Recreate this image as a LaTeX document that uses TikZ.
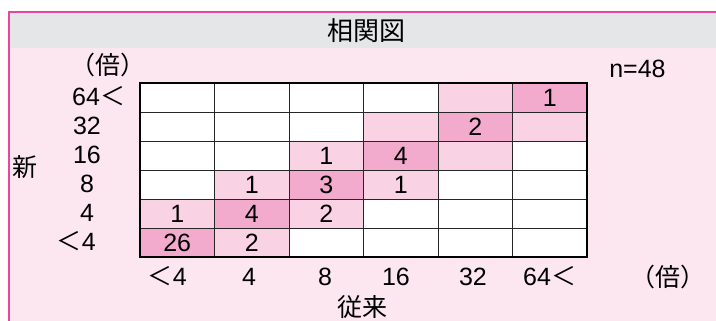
\documentclass[tikz,border=0pt]{standalone}
\usepackage{fontspec}
\setmainfont{Liberation Sans}
\newfontfamily\jp{Noto Sans CJK JP}
\usepackage{tikz}
\definecolor{frame_pink}{RGB}{230,72,158}
\definecolor{band_gray}{RGB}{229,230,232}
\definecolor{bg_pink}{RGB}{252,230,240}
\definecolor{cell_light}{RGB}{249,211,228}
\definecolor{cell_dark}{RGB}{242,171,205}
\newcommand\lt{{\jp ＜}}

\begin{document}
\begin{tikzpicture}[x=1pt,y=-1pt,font=\fontsize{25}{30}\selectfont]
    \tikzstyle{cell}=[minimum width=74.5pt, minimum height=29pt, inner sep=0pt, text=black]
    \tikzstyle{lc}=[style=cell, fill=cell_light]
    \tikzstyle{dc}=[style=cell, fill=cell_dark]
    \tikzstyle{lab}=[inner sep=0pt, text=black, anchor=base]
    \tikzstyle{jlab}=[inner sep=0pt, text=black, font=\fontsize{25}{30}\selectfont\jp]
    \tikzstyle{gridline}=[draw=black!85, line width=0.8pt]
    \tikzstyle{border}=[draw=black, line width=2pt]

    \useasboundingbox (0,0) rectangle (716,321);
    \begin{scope}
      \clip (0,0) rectangle (716,321);
      \fill[bg_pink] (9,12) rectangle (740,340);
      \fill[band_gray] (9,12) rectangle (740,48);
      \draw[frame_pink, line width=2pt] (9,12) rectangle (740,340);
    \end{scope}

    \node[jlab, font=\fontsize{26}{30}\selectfont\jp] (title) at (366,30.5) {相関図};

    \node[cell, fill=white, minimum width=447pt, minimum height=174pt] (grid) at (363.5,170) {};

    \node[lc] (c15) at (475.25,97.5)  {};
    \node[dc] (c16) at (549.75,97.5)  {1};
    \node[lc] (c24) at (400.75,126.5) {};
    \node[dc] (c25) at (475.25,126.5) {2};
    \node[lc] (c26) at (549.75,126.5) {};
    \node[lc] (c33) at (326.25,155.5) {1};
    \node[dc] (c34) at (400.75,155.5) {4};
    \node[lc] (c35) at (475.25,155.5) {};
    \node[lc] (c42) at (251.75,184.5) {1};
    \node[dc] (c43) at (326.25,184.5) {3};
    \node[lc] (c44) at (400.75,184.5) {1};
    \node[lc] (c51) at (177.25,213.5) {1};
    \node[dc] (c52) at (251.75,213.5) {4};
    \node[lc] (c53) at (326.25,213.5) {2};
    \node[dc] (c61) at (177.25,242.5) {26};
    \node[lc] (c62) at (251.75,242.5) {2};

    \foreach \x in {214.5,289,363.5,438,512.5}
      \draw[gridline] (\x,83) -- (\x,257);
    \foreach \y in {112,141,170,199,228}
      \draw[gridline] (140,\y) -- (587,\y);
    \draw[border] (grid.north west) rectangle (grid.south east);

    \node[jlab] (unity) at (108,65) {（倍）};
    \node[lab, anchor=base west] (y6) at (72,106) {64\lt};
    \node[lab] (y5) at (87,135) {32};
    \node[lab] (y4) at (87,164) {16};
    \node[lab] (y3) at (87,193) {8};
    \node[lab] (y2) at (87,222) {4};
    \node[lab, anchor=base east] (y1) at (96,251) {\lt4};
    \node[jlab] (ytitle) at (25,167) {新};

    \node[lab] (n) at (637.5,78) {n=48};

    \node[lab, anchor=base east] (x1) at (187,285) {\lt4};
    \node[lab] (x2) at (249,285) {4};
    \node[lab] (x3) at (325,285) {8};
    \node[lab] (x4) at (396,285) {16};
    \node[lab] (x5) at (473,285) {32};
    \node[lab, anchor=base west] (x6) at (523,285) {64\lt};
    \node[jlab] (unitx) at (668,277) {（倍）};
    \node[jlab] (xtitle) at (362,307) {従来};
  \end{tikzpicture}
\end{document}
